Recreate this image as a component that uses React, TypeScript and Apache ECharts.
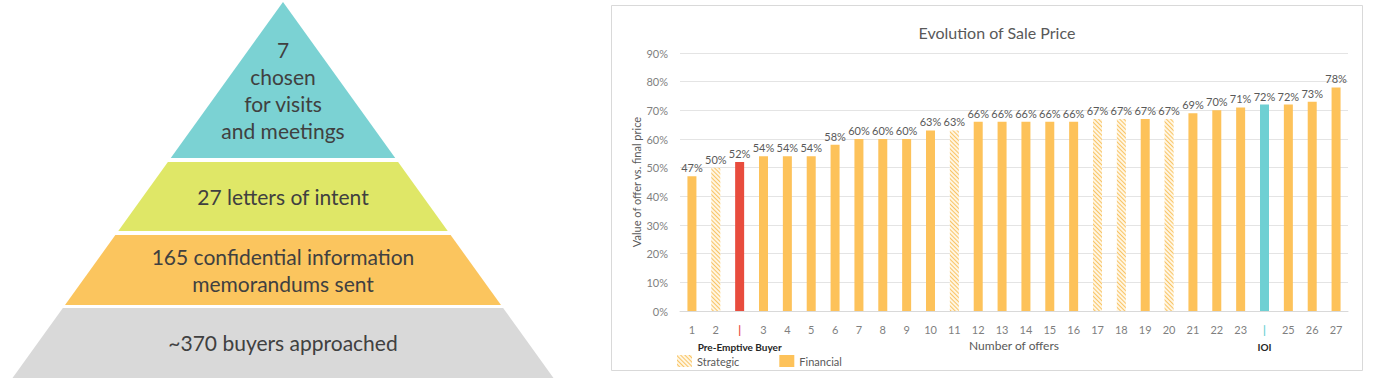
import React, { useEffect, useRef } from "react";
import * as echarts from "echarts";

// ---- Data ----
const categories = [
  "1", "2", "Pre-Emptive Buyer", "3", "4", "5", "6", "7", "8", "9", "10", "11", "12", "13",
  "14", "15", "16", "17", "18", "19", "20", "21", "22", "23", "IOI", "25", "26", "27",
];
const offerValues = [
  47, 50, 52, 54, 54, 54, 58, 60, 60, 60, 63, 63, 66, 66, 66, 66, 66, 67, 67, 67, 67, 69, 70,
  71, 72, 72, 73, 78,
];
// S = strategic, F = financial, P = pre-emptive buyer, I = IOI
const buyerTypes = [
  "F", "S", "P", "F", "F", "F", "F", "F", "F", "F", "F", "S", "F", "F", "F", "F", "F", "S", "S",
  "F", "S", "F", "F", "F", "I", "F", "F", "F",
];
const yTicks = [0, 10, 20, 30, 40, 50, 60, 70, 80, 90];
const pyramidLayers = [
  { lines: ["7", "chosen", "for visits", "and meetings"], color: "#7BD2D3" },
  { lines: ["27 letters of intent"], color: "#DFE767" },
  { lines: ["165 confidential information", "memorandums sent"], color: "#FBC55E" },
  { lines: ["~370 buyers approached"], color: "#D9D9D9" },
];

// ---- Styles / layout ----
const FONT = "Lato, 'Open Sans', sans-serif";
const FIN = "#FDC25A";
const RED = "#E84C3D";
const TEAL = "#6FD0D3";
const APEX_X = 283;
const APEX_Y = 2;
const BASE_Y = 378;
const HALF_BASE = 270.5;
const layerBands = [
  [2, 158, 90],
  [162, 231, 196],
  [235, 305, 270],
  [308, 378, 342],
];

function hw(y: number) {
  return (HALF_BASE * (y - APEX_Y)) / (BASE_Y - APEX_Y);
}

function pyramidGraphics() {
  const els: any[] = [];
  pyramidLayers.forEach((layer, i) => {
    const [top, bottom, mid] = layerBands[i];
    const pts: number[][] = [];
    if (top <= APEX_Y) pts.push([APEX_X, top]);
    else {
      pts.push([APEX_X - hw(top), top]);
      pts.push([APEX_X + hw(top), top]);
    }
    pts.push([APEX_X + hw(bottom), bottom]);
    pts.push([APEX_X - hw(bottom), bottom]);
    els.push({
      type: "polygon",
      shape: { points: pts },
      style: { fill: layer.color },
      silent: true,
    });
    els.push({
      type: "text",
      x: APEX_X,
      y: mid,
      style: {
        text: layer.lines.join("\n"),
        align: "center",
        verticalAlign: "middle",
        fontFamily: FONT,
        fontSize: 21,
        lineHeight: 27,
        fill: "#404040",
      },
      silent: true,
    });
  });
  return els;
}

const strategicDecal = {
  symbol: "rect",
  symbolSize: 1,
  color: "#F9C466",
  dashArrayX: [1, 0],
  dashArrayY: [1, 1.6],
  rotation: Math.PI / 4,
};

export default function App() {
  const ref = useRef<HTMLDivElement>(null);

  useEffect(() => {
    if (!ref.current) return;
    const chart = echarts.init(ref.current, null, { renderer: "svg" });

    const strategicData = offerValues.map((v, i) => (buyerTypes[i] === "S" ? v : null));
    const financialData = offerValues.map((v, i) => {
      const t = buyerTypes[i];
      if (t === "F") return v;
      if (t === "P") return { value: v, itemStyle: { color: RED } };
      if (t === "I") return { value: v, itemStyle: { color: TEAL } };
      return null;
    });

    const labelCfg = {
      show: true,
      position: "top",
      distance: 3,
      formatter: "{c}%",
      color: "#595959",
      fontFamily: FONT,
      fontSize: 11,
    };

    chart.setOption({
      animation: false,
      title: {
        text: "Evolution of Sale Price",
        left: 992,
        top: 19,
        textAlign: "center",
        textStyle: { fontFamily: FONT, fontSize: 16, fontWeight: "normal", color: "#595959" },
      },
      legend: {
        data: ["Strategic", "Financial"],
        left: 672,
        top: 350,
        itemWidth: 15,
        itemHeight: 12,
        itemGap: 40,
        icon: "rect",
        textStyle: { fontFamily: FONT, fontSize: 11, color: "#595959" },
      },
      graphic: [
        {
          type: "rect",
          shape: { x: 611.5, y: 5.5, width: 751, height: 365 },
          style: { fill: "none", stroke: "#D9D9D9", lineWidth: 1 },
          silent: true,
          z: -10,
        },
        ...pyramidGraphics(),
      ],
      grid: { left: 680, right: 25, top: 53, bottom: 76, containLabel: false },
      xAxis: {
        type: "category",
        data: categories,
        name: "Number of offers",
        nameLocation: "middle",
        nameGap: 28,
        nameMoveOverlap: false,
        nameTextStyle: { fontFamily: FONT, fontSize: 12, color: "#595959" },
        axisLine: { show: true, lineStyle: { color: "#D9D9D9" } },
        axisTick: { show: false },
        axisLabel: {
          interval: 0,
          margin: 10,
          color: "#7F7F7F",
          fontFamily: FONT,
          fontSize: 11,
          lineHeight: 17,
          formatter: (v: string) => {
            if (v === "Pre-Emptive Buyer") return "{red||}\n{bold|Pre-Emptive Buyer}";
            if (v === "IOI") return "{teal||}\n{bold|IOI}";
            return v;
          },
          rich: {
            red: { color: RED, fontSize: 11, fontWeight: "bold", lineHeight: 17, fontFamily: FONT },
            teal: { color: TEAL, fontSize: 11, fontWeight: "bold", lineHeight: 17, fontFamily: FONT },
            bold: { color: "#262626", fontSize: 10, fontWeight: "bold", lineHeight: 17, fontFamily: FONT },
          },
        },
      },
      yAxis: {
        type: "value",
        min: yTicks[0],
        max: yTicks[yTicks.length - 1],
        interval: 10,
        name: "Value of offer vs. final price",
        nameLocation: "middle",
        nameGap: 38,
        nameTextStyle: { fontFamily: FONT, fontSize: 11, color: "#595959" },
        axisLine: { show: false },
        axisTick: { show: false },
        axisLabel: {
          formatter: "{value}%",
          color: "#7F7F7F",
          fontFamily: FONT,
          fontSize: 11,
          margin: 12,
        },
        splitLine: { lineStyle: { color: "#E4E4E4" } },
      },
      series: [
        {
          name: "Strategic",
          type: "bar",
          data: strategicData,
          barWidth: 9,
          barGap: "-100%",
          itemStyle: { color: "#FFF6E2", decal: strategicDecal },
          label: labelCfg,
        },
        {
          name: "Financial",
          type: "bar",
          data: financialData,
          barWidth: 9,
          barGap: "-100%",
          itemStyle: { color: FIN },
          label: labelCfg,
        },
      ],
    });

    return () => chart.dispose();
  }, []);

  return (
    <div
      ref={ref}
      style={{ position: "absolute", left: 0, top: 0, width: 1373, height: 387, background: "#fff" }}
    />
  );
}
